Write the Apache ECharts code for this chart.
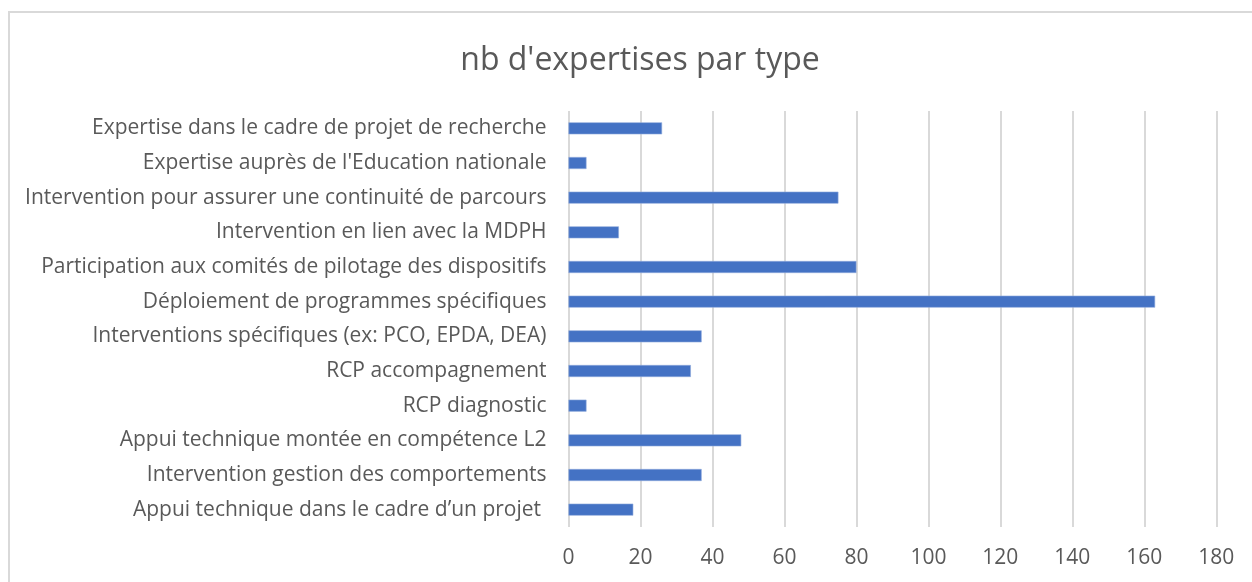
<!DOCTYPE html>
<html>
<head>
<meta charset="utf-8">
<title>nb d'expertises par type</title>
<script src="https://cdn.jsdelivr.net/npm/echarts@6/dist/echarts.min.js"></script>
<style>
  html, body { margin: 0; padding: 0; background: #fff; }
  #chart { width: 1252px; height: 582px; }
</style>
</head>
<body>
<div id="chart"></div>
<script>
// categories, top to bottom as in the picture
const categories = [
  'Expertise dans le cadre de projet de recherche',
  "Expertise auprès de l'Education nationale",
  'Intervention pour assurer une continuité de parcours',
  'Intervention en lien avec la MDPH',
  'Participation aux comités de pilotage des dispositifs',
  'Déploiement de programmes spécifiques',
  'Interventions spécifiques (ex: PCO, EPDA, DEA)',
  'RCP accompagnement',
  'RCP diagnostic',
  'Appui technique montée en compétence L2',
  'Intervention gestion des comportements',
  'Appui technique dans le cadre d\u2019un projet '
]
const counts = [26, 5, 75, 14, 80, 163, 37, 34, 5, 48, 37, 18]

const axisMin = 0
const axisMax = 180
const axisStep = 20

const textColor = '#595959'
const fontFamily = '"Open Sans", "Noto Sans", sans-serif'

const chart = echarts.init(document.getElementById('chart'))
chart.setOption({
  animation: false,
  title: {
    text: "nb d'expertises par type",
    left: 635,
    top: 40,
    textAlign: 'center',
    textStyle: {
      color: textColor,
      fontFamily: fontFamily,
      fontSize: 32,
      fontWeight: 'normal'
    }
  },
  graphic: [{
    // outer chart frame (only top and left edges are visible)
    type: 'rect',
    silent: true,
    shape: { x: 9, y: 12, width: 1400, height: 800 },
    style: { fill: 'none', stroke: '#d9d9d9', lineWidth: 2 }
  }],
  grid: {
    left: 568.5,
    right: 35.7,
    top: 111,
    bottom: 55
  },
  xAxis: {
    type: 'value',
    min: axisMin,
    max: axisMax,
    interval: axisStep,
    axisLine: { show: false },
    axisTick: { show: false },
    axisLabel: {
      margin: 21,
      color: textColor,
      fontFamily: fontFamily,
      fontSize: 21
    },
    splitLine: {
      lineStyle: { color: '#d9d9d9', width: 2 }
    }
  },
  yAxis: {
    type: 'category',
    inverse: true,
    data: categories,
    axisLine: { show: false },
    axisTick: { show: false },
    axisLabel: {
      margin: 22,
      color: textColor,
      fontFamily: fontFamily,
      fontSize: 21
    }
  },
  series: [{
    type: 'bar',
    data: counts,
    barWidth: 12,
    itemStyle: {
      color: '#4472c4',
      borderColor: '#8eaadb',
      borderWidth: 0.6
    }
  }]
})
</script>
</body>
</html>
